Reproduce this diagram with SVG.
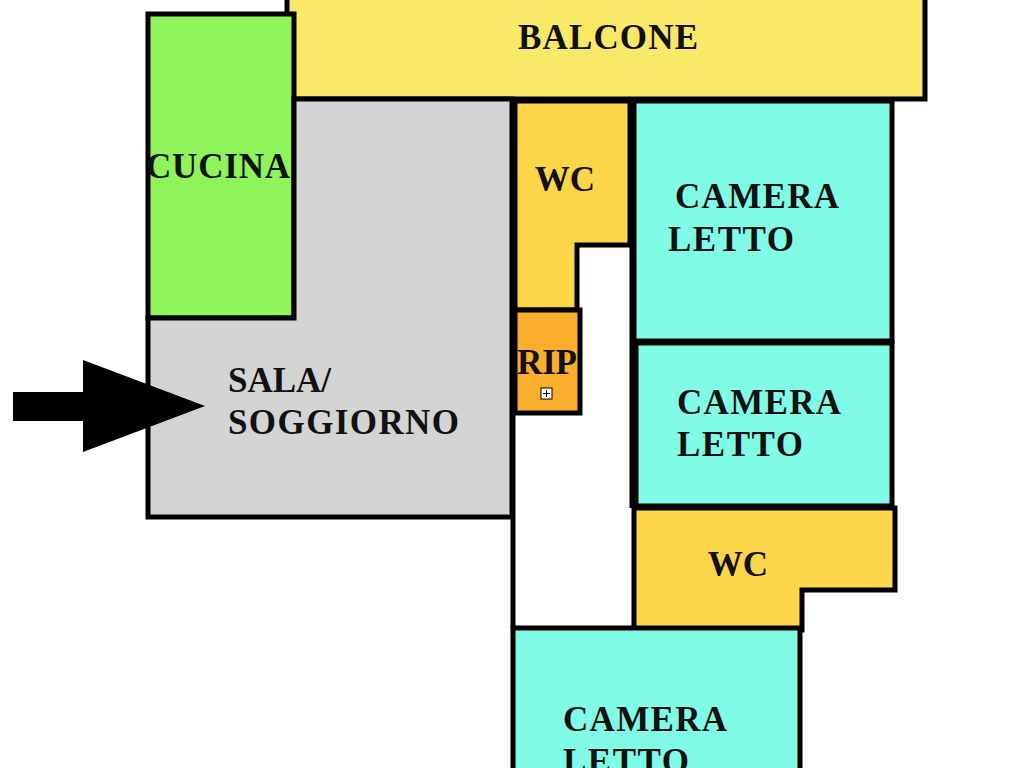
<svg xmlns="http://www.w3.org/2000/svg" width="1024" height="768" viewBox="0 0 1024 768">
<style>
.r{stroke:#000;stroke-width:5;stroke-linejoin:miter}
.t{font-family:"Liberation Serif",serif;font-weight:bold;font-size:35px;fill:#111}
</style>
<rect width="1024" height="768" fill="#fff"/>
<g id="balcone"><rect class="r" x="287" y="-5" width="638" height="104" fill="#fae968"/><text class="t" x="608" y="49" text-anchor="middle" textLength="180">BALCONE</text></g>
<g id="cucina"><rect class="r" x="148" y="14" width="146" height="304" fill="#8ef45a"/><text class="t" x="218" y="178" text-anchor="middle" textLength="144">CUCINA</text></g>
<g id="sala"><path class="r" d="M294 99H512V517H148V318H294Z" fill="#d4d4d4"/><text class="t" x="228" y="392">SALA/</text><text class="t" x="228" y="434" textLength="231">SOGGIORNO</text></g>
<g id="wc1"><path class="r" d="M515 101H630V245H577V310H515Z" fill="#fdd549"/><text class="t" x="565" y="191" text-anchor="middle">WC</text></g>
<g id="rip"><rect class="r" x="515" y="310" width="65" height="103" fill="#fbad2d"/><text class="t" x="547" y="374" text-anchor="middle" textLength="60">RIP</text><rect x="541" y="388" width="11" height="11" fill="#fff" stroke="#000" stroke-width="1"/><path d="M543 393.5h7M546.5 390v7" stroke="#000" stroke-width="1"/></g>
<g id="camera1"><rect class="r" x="634" y="101" width="258" height="240" fill="#7ffbe6"/><text class="t" x="675" y="208" textLength="164">CAMERA</text><text class="t" x="668" y="251" textLength="126">LETTO</text></g>
<g id="camera2"><rect class="r" x="636" y="343" width="256" height="163" fill="#7ffbe6"/><text class="t" x="677" y="414" textLength="164">CAMERA</text><text class="t" x="677" y="456" textLength="126">LETTO</text></g>
<g id="wc2"><path class="r" d="M634 508H895V590H802V630H634Z" fill="#fdd549"/><text class="t" x="738" y="576" text-anchor="middle">WC</text></g>
<g id="camera3"><rect class="r" x="513" y="628" width="287" height="150" fill="#7ffbe6"/><text class="t" x="563" y="731" textLength="164">CAMERA</text><text class="t" x="563" y="773" textLength="126">LETTO</text></g>
<g id="walls" stroke="#000" stroke-width="5"><line x1="513" y1="413" x2="513" y2="628"/><line x1="632" y1="245" x2="632" y2="508"/></g>
<g id="arrow"><rect x="13" y="392" width="72" height="29" fill="#000"/><polygon points="83,360 205,406 83,452" fill="#000"/></g>
</svg>
